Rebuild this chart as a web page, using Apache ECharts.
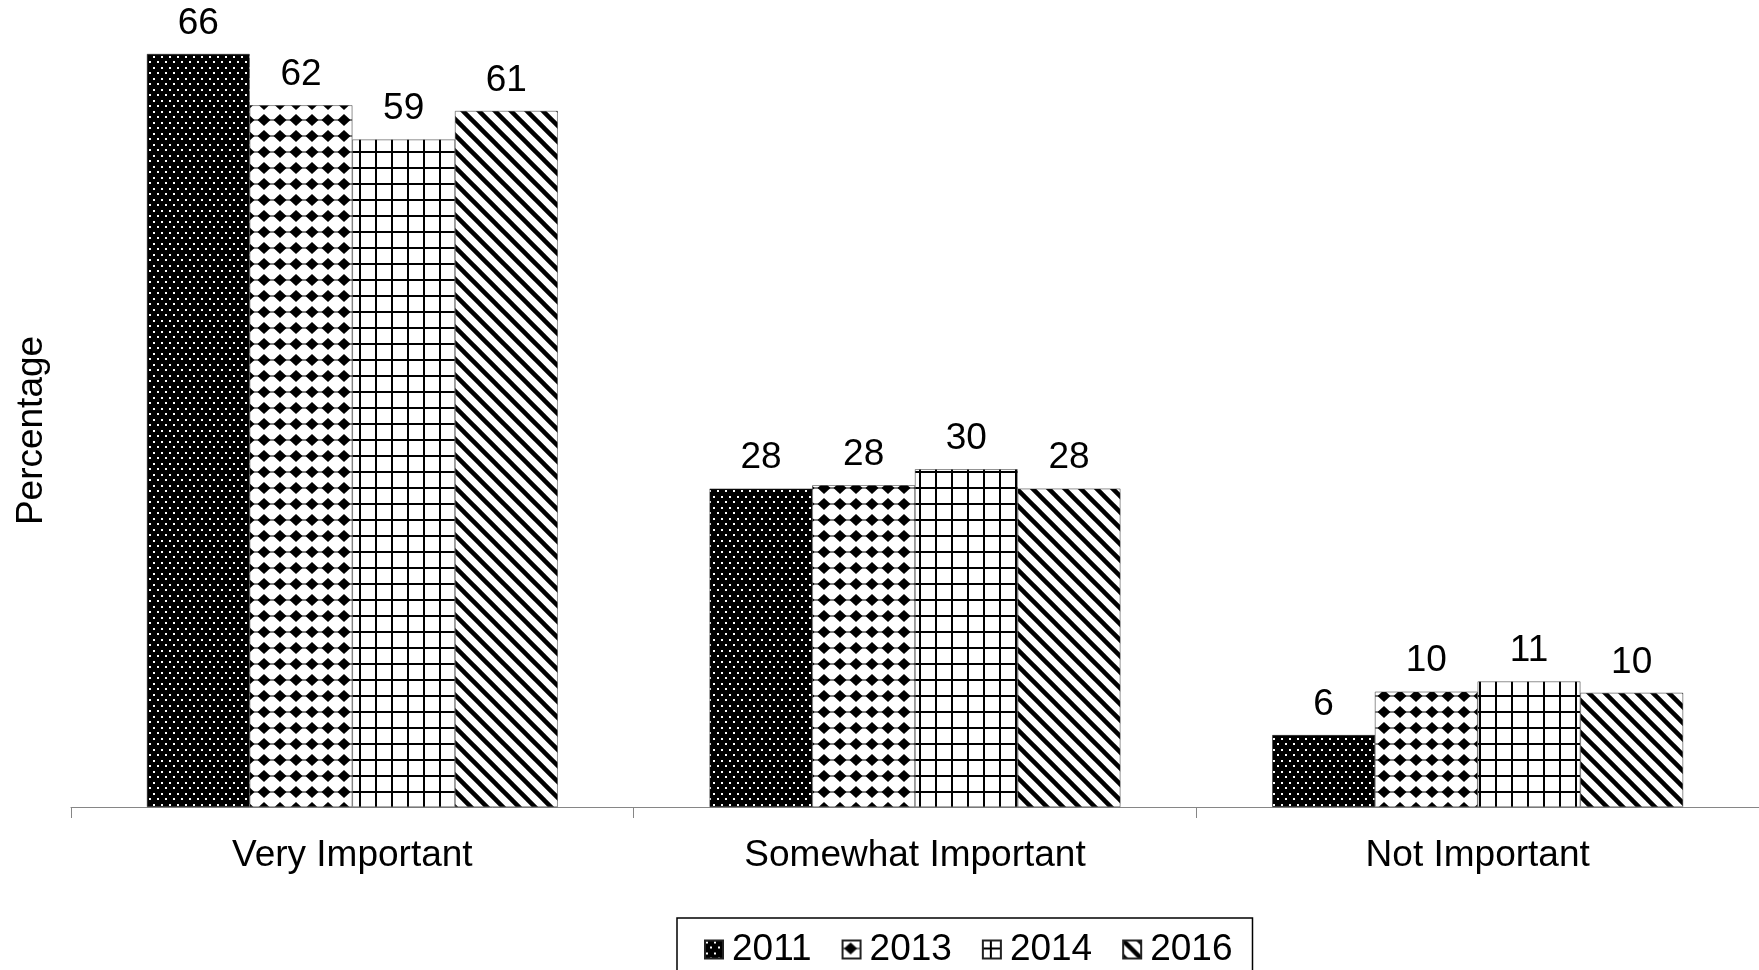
<!DOCTYPE html>
<html>
<head>
<meta charset="utf-8">
<title>Importance by year</title>
<script src="https://cdn.jsdelivr.net/npm/echarts@6/dist/echarts.min.js"></script>
<style>
    html, body { margin: 0; padding: 0; background: #fff; }
    #chart { width: 1759px; height: 970px; }
</style>
</head>
<body>
<div id="chart"></div>
<script>
    // data
    var categories = ['Very Important', 'Somewhat Important', 'Not Important'];
    var years = ['2011', '2013', '2014', '2016'];
    var v2011 = [66, 27.9, 6.3];
    var v2013 = [61.5, 28.2, 10.1];
    var v2014 = [58.5, 29.6, 11.0];
    var v2016 = [61, 27.9, 10.0];

    var font = 'Liberation Sans, Arial, sans-serif';

    // fill patterns, drawn on small tiles
    function tile(w, h, draw) {
        var c = document.createElement('canvas');
        c.width = w;
        c.height = h;
        draw(c.getContext('2d'));
        return {image: c, repeat: 'repeat'};
    }

    var dots = tile(8, 11, function (ctx) {
        ctx.fillStyle = '#000';
        ctx.fillRect(0, 0, 8, 11);
        ctx.fillStyle = '#fff';
        ctx.fillRect(1, 1, 2, 2);
        ctx.fillRect(5, 6, 2, 2);
    });

    var diamonds = tile(16, 16, function (ctx) {
        ctx.fillStyle = '#fff';
        ctx.fillRect(0, 0, 16, 16);
        ctx.fillStyle = '#000';
        ctx.beginPath();
        ctx.moveTo(8, 2);
        ctx.lineTo(14.5, 8);
        ctx.lineTo(8, 14);
        ctx.lineTo(1.5, 8);
        ctx.closePath();
        ctx.fill();
        ctx.fillRect(0, 7.5, 16, 1);
    });

    var grid = tile(16, 16, function (ctx) {
        ctx.fillStyle = '#fff';
        ctx.fillRect(0, 0, 16, 16);
        ctx.fillStyle = '#000';
        ctx.fillRect(7, 0, 2, 16);
        ctx.fillRect(0, 7, 16, 2);
    });

    var stripes = tile(16, 16, function (ctx) {
        ctx.fillStyle = '#fff';
        ctx.fillRect(0, 0, 16, 16);
        ctx.strokeStyle = '#000';
        ctx.lineWidth = 4.5;
        for (var k = -16; k <= 16; k += 16) {
            ctx.beginPath();
            ctx.moveTo(k - 4, -4);
            ctx.lineTo(k + 20, 20);
            ctx.stroke();
        }
    });

    var fills = [dots, diamonds, grid, stripes];
    var values = [v2011, v2013, v2014, v2016];

    var chart = echarts.init(document.getElementById('chart'));

    var series = years.map(function (y, i) {
        return {
            name: y,
            type: 'bar',
            data: values[i],
            barGap: '0%',
            barCategoryGap: '27%',
            itemStyle: {
                color: fills[i],
                borderColor: '#222',
                borderWidth: 0.5
            },
            label: {
                show: true,
                position: 'top',
                distance: 12,
                color: '#000',
                fontSize: 37,
                fontFamily: font,
                formatter: function (p) {
                    return Math.round(p.value);
                }
            }
        };
    });

    var option = {
        animation: false,
        backgroundColor: '#fff',
        grid: {
            left: 71,
            right: 0,
            top: 54,
            bottom: 163
        },
        legend: {
            data: years,
            left: 677,
            top: 918,
            padding: [13, 20, 20, 27],
            itemWidth: 18,
            itemHeight: 18,
            itemGap: 30,
            borderColor: '#000',
            borderWidth: 1.5,
            icon: 'rect',
            textStyle: {
                color: '#000',
                fontSize: 37,
                fontFamily: font,
                padding: [0, 0, 0, 4]
            }
        },
        xAxis: {
            type: 'category',
            data: categories,
            axisLine: {lineStyle: {color: '#868686', width: 1}},
            axisTick: {show: true, length: 11, lineStyle: {color: '#868686'}},
            axisLabel: {
                color: '#000',
                fontSize: 37,
                fontFamily: font,
                margin: 30
            }
        },
        yAxis: {
            type: 'value',
            min: 0,
            max: 66,
            name: 'Percentage',
            nameLocation: 'middle',
            nameRotate: 90,
            nameGap: 21,
            nameTextStyle: {
                color: '#000',
                fontSize: 37,
                fontFamily: font
            },
            axisLine: {show: false},
            axisTick: {show: false},
            axisLabel: {show: false},
            splitLine: {show: false}
        },
        series: series
    };

    chart.setOption(option);
    window.addEventListener('resize', chart.resize);
</script>
</body>
</html>
